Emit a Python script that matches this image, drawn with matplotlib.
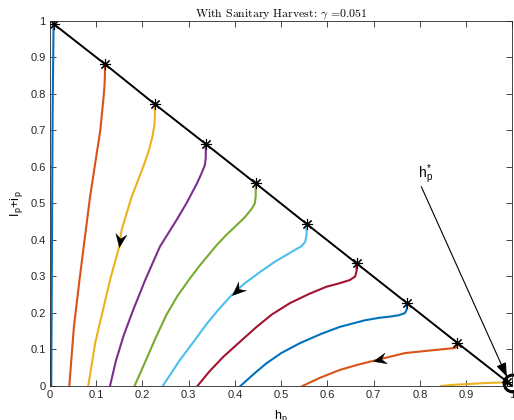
import numpy as np
import matplotlib
matplotlib.use('Agg')
import matplotlib.pyplot as plt
from matplotlib.path import Path

plt.rcParams['font.family'] = ['Liberation Sans', 'DejaVu Sans']
plt.rcParams['mathtext.fontset'] = 'cm'

# initial points on the line h_p + I_p + i_p = 1
h_start = [0.008, 0.119, 0.227, 0.337, 0.445, 0.555, 0.663, 0.772, 0.880, 0.989]
y_start = [0.992, 0.882, 0.772, 0.663, 0.555, 0.444, 0.336, 0.227, 0.119, 0.011]

# trajectories (h_p, I_p+i_p)
tr1_h = [0.008, 0.006, 0.005, 0.004, 0.003]
tr1_y = [0.992, 0.75, 0.5, 0.25, 0.0]
tr2_h = [0.119, 0.119, 0.118, 0.116, 0.109, 0.098, 0.087, 0.075, 0.064, 0.052, 0.042]
tr2_y = [0.882, 0.85, 0.82, 0.79, 0.70, 0.61, 0.519, 0.40, 0.29, 0.162, 0.0]
tr3_h = [0.227, 0.227, 0.226, 0.222, 0.214, 0.202, 0.177, 0.155, 0.150, 0.130, 0.117, 0.098, 0.083]
tr3_y = [0.772, 0.74, 0.715, 0.685, 0.645, 0.601, 0.519, 0.427, 0.382, 0.29, 0.22, 0.118, 0.0]
tr4_h = [0.337, 0.337, 0.335, 0.328, 0.318, 0.295, 0.274, 0.238, 0.206, 0.180, 0.160, 0.143, 0.130]
tr4_y = [0.663, 0.625, 0.605, 0.583, 0.555, 0.50, 0.455, 0.382, 0.29, 0.208, 0.14, 0.07, 0.0]
tr5_h = [0.445, 0.445, 0.443, 0.436, 0.422, 0.404, 0.380, 0.360, 0.324, 0.300, 0.275, 0.252, 0.228, 0.204, 0.183]
tr5_y = [0.555, 0.52, 0.50, 0.485, 0.463, 0.441, 0.412, 0.385, 0.33, 0.29, 0.245, 0.195, 0.13, 0.06, 0.0]
tr6_h = [0.555, 0.555, 0.552, 0.544, 0.526, 0.486, 0.454, 0.420, 0.393, 0.365, 0.339, 0.310, 0.281, 0.244]
tr6_y = [0.444, 0.415, 0.395, 0.383, 0.370, 0.340, 0.312, 0.28, 0.249, 0.21, 0.17, 0.12, 0.071, 0.0]
tr7_h = [0.663, 0.663, 0.660, 0.648, 0.625, 0.598, 0.560, 0.519, 0.480, 0.447, 0.410, 0.375, 0.345, 0.319]
tr7_y = [0.336, 0.315, 0.300, 0.290, 0.281, 0.272, 0.252, 0.227, 0.196, 0.162, 0.12, 0.08, 0.04, 0.0]
tr8_h = [0.772, 0.772, 0.768, 0.755, 0.735, 0.713, 0.681, 0.627, 0.587, 0.540, 0.500, 0.468, 0.440, 0.412]
tr8_y = [0.227, 0.212, 0.200, 0.194, 0.190, 0.187, 0.180, 0.162, 0.143, 0.117, 0.09, 0.062, 0.032, 0.0]
tr9_h = [0.880, 0.880, 0.875, 0.860, 0.820, 0.767, 0.706, 0.665, 0.627, 0.585, 0.546]
tr9_y = [0.119, 0.107, 0.104, 0.102, 0.097, 0.09, 0.071, 0.058, 0.044, 0.023, 0.0]
tr10_h = [0.989, 0.986, 0.940, 0.900, 0.870, 0.846]
tr10_y = [0.011, 0.010, 0.008, 0.005, 0.003, 0.0]

trajs = [(tr1_h, tr1_y), (tr2_h, tr2_y), (tr3_h, tr3_y), (tr4_h, tr4_y), (tr5_h, tr5_y),
         (tr6_h, tr6_y), (tr7_h, tr7_y), (tr8_h, tr8_y), (tr9_h, tr9_y), (tr10_h, tr10_y)]
colors = ['#0072BD', '#D95319', '#EDB120', '#7E2F8E', '#77AC30',
          '#4DBEEE', '#A2142F', '#0072BD', '#D95319', '#EDB120']

# direction arrows on some trajectories: (tip, tail)
arrows = [((0.150, 0.382), (0.155, 0.427)),
          ((0.393, 0.249), (0.420, 0.280)),
          ((0.698, 0.069), (0.767, 0.090))]

xticks = [0, 0.1, 0.2, 0.3, 0.4, 0.5, 0.6, 0.7, 0.8, 0.9, 1]
xticklabels = ['0', '0.1', '0.2', '0.3', '0.4', '0.5', '0.6', '0.7', '0.8', '0.9', '1']

fig = plt.figure(figsize=(5.14, 4.2), dpi=100)
ax = fig.add_axes([0.097, 0.081, 0.9, 0.869])
ax.set_xlim(0, 1)
ax.set_ylim(0, 1)

for (h, y), c in zip(trajs, colors):
    ax.plot(h, y, color=c, lw=1.5)

ax.plot(h_start + [1.0], y_start + [0.0], color='k', lw=1.4)
ax.plot(h_start, y_start, ls='none', marker=(8, 2, 0), ms=8, mec='k', mew=0.8)
ax.plot([0.998], [0.007], ls='none', marker='o', ms=12, mfc='none', mec='k', mew=2.2, clip_on=False)

# notched arrowhead, tip at origin, pointing along +x
head = np.array([[0, 0], [-1, 0.42], [-0.65, 0], [-1, -0.42], [0, 0]])
for tip, tail in arrows:
    p1 = ax.transData.transform(tail)
    p2 = ax.transData.transform(tip)
    a = np.arctan2(p2[1] - p1[1], p2[0] - p1[0])
    rot = np.array([[np.cos(a), -np.sin(a)], [np.sin(a), np.cos(a)]])
    verts = head @ rot.T
    ax.plot([tip[0]], [tip[1]], ls='none', marker=Path(verts), ms=20, mfc='k', mec='k', mew=0.3)

ax.annotate('', xy=(0.988, 0.025), xytext=(0.803, 0.546),
            arrowprops=dict(arrowstyle='-|>,head_length=0.6,head_width=0.22',
                            color='k', lw=0.8, mutation_scale=14, shrinkA=0, shrinkB=0))
ax.text(0.795, 0.57, r'h$_\mathregular{p}^\mathregular{*}$', fontsize=10)

ax.set_xticks(xticks)
ax.set_xticklabels(xticklabels)
ax.set_yticks(xticks)
ax.set_yticklabels(xticklabels)
ax.tick_params(direction='in', top=True, right=True, length=4, width=0.6,
               labelsize=8, colors='#262626', pad=3)
for s in ax.spines.values():
    s.set_linewidth(0.6)
    s.set_color('#262626')

ax.set_xlabel(r'h$_\mathregular{p}$', fontsize=9, labelpad=6)
ax.set_ylabel(r'I$_\mathregular{p}$+i$_\mathregular{p}$', fontsize=9, labelpad=3)
ax.set_title(r'With Sanitary Harvest: $\gamma$ =0.051', fontsize=8.5, pad=3,
             fontfamily=['cmr10', 'DejaVu Serif'])

fig.savefig('out.png', dpi=100)
